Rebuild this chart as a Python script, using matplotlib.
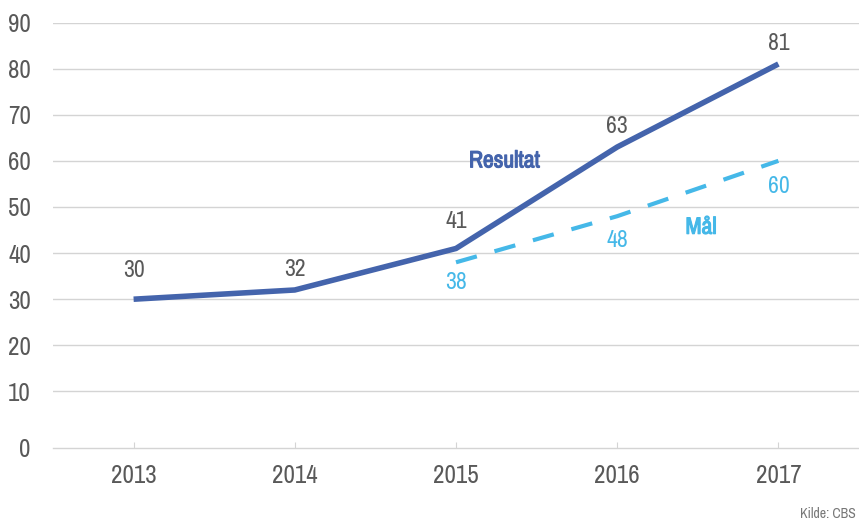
import numpy as np
import matplotlib
matplotlib.use("Agg")
import matplotlib.pyplot as plt
from matplotlib import font_manager
import matplotlib.patheffects as pe

years = ["2013", "2014", "2015", "2016", "2017"]
resultat = [30, 32, 41, 63, 81]
maal_years = ["2015", "2016", "2017"]
maal = [38, 48, 60]
ytick_vals = [10, 20, 30, 40, 50, 60, 70, 80, 90]

DARK = "#4464AC"
LIGHT = "#45B8E8"
GREY = "#595959"
GRID = "#D4D4D4"

# pick a narrow font if one is around
names = {f.name for f in font_manager.fontManager.ttflist}
narrow = [n for n in names if "Narrow" in n or "Condensed" in n]
if narrow:
    plt.rcParams['font.family'] = [sorted(narrow)[0], 'DejaVu Sans']
    plt.rcParams['font.stretch'] = 'condensed'
    FS = 18
else:
    plt.rcParams['font.family'] = ['DejaVu Sans']
    FS = 14

fig = plt.figure(figsize=(8.59, 5.26), dpi=100)
ax = fig.add_axes([53/859, 1 - 447.7/526, 1 - 53/859, (447.7 - 22.5)/526])

x = np.arange(len(years))
xm = np.array([years.index(y) for y in maal_years])

ymin = -2.2
ax.set_xlim(-0.5, len(years) - 0.5)
ax.set_ylim(ymin, 90)

for v in ytick_vals:
    ax.axhline(v, color=GRID, lw=1.0, zorder=0)

ax.plot(x, resultat, color=DARK, lw=4.0, solid_capstyle="butt", zorder=3)
ax.plot(xm, maal, color=LIGHT, lw=3.0, dashes=(5.2, 4.4), zorder=2)

res_off = [13, 7, 12, 7, 7]
for xi, v, off in zip(x, resultat, res_off):
    ax.annotate(str(v), (xi, v), xytext=(0, off), textcoords="offset points",
                ha="center", va="bottom", fontsize=FS - 1, color=GREY)
maal_off = [-7, -10, -11]
for xi, v, off in zip(xm, maal, maal_off):
    ax.annotate(str(v), (xi, v), xytext=(0, off), textcoords="offset points",
                ha="center", va="top", fontsize=FS - 1, color=LIGHT)

# fake bold, the narrow family has no bold face here
bold_dark = [pe.withStroke(linewidth=0.8, foreground=DARK)]
bold_light = [pe.withStroke(linewidth=0.8, foreground=LIGHT)]
ax.text(2.3, 60.0, "Resultat", color=DARK, fontsize=FS - 1, fontweight="bold",
        ha="center", va="center", path_effects=bold_dark)
ax.text(3.52, 45.6, "Mål", color=LIGHT, fontsize=FS - 1, fontweight="bold",
        ha="center", va="center", path_effects=bold_light)

ax.set_xticks(x)
ax.set_xticklabels(years, fontsize=FS, color=GREY)
ax.set_yticks([ymin] + ytick_vals)
ax.set_yticklabels(["0"] + [str(v) for v in ytick_vals], fontsize=FS, color=GREY)
ax.tick_params(axis="y", length=0, pad=16)
ax.tick_params(axis="x", direction="in", length=4, color=GRID, pad=12)
for s in ["top", "left", "right"]:
    ax.spines[s].set_visible(False)
ax.spines["bottom"].set_color(GRID)
ax.spines["bottom"].set_linewidth(1.0)
ax.patch.set_alpha(0)

fig.text(0.996, 0.01, "Kilde: CBS", ha="right", va="bottom", fontsize=10, color="#777777")

fig.savefig("out.png", dpi=100)
